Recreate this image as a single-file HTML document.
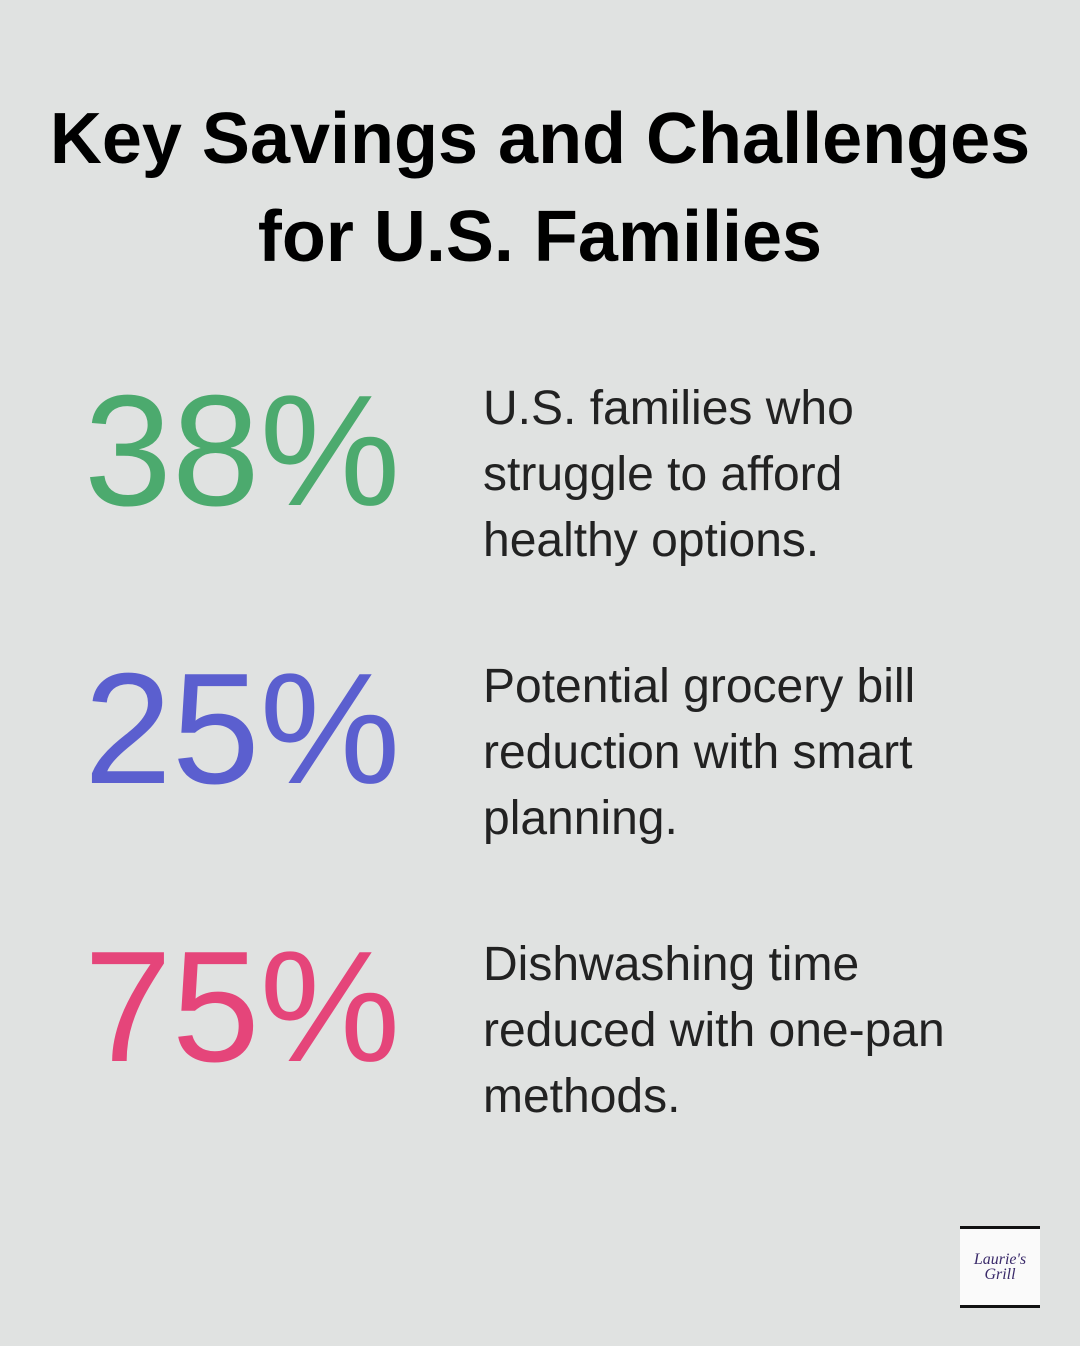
<!DOCTYPE html>
<html><head><meta charset="utf-8"><style>
body{margin:0;width:1080px;height:1346px;background:#e0e2e1;position:relative;overflow:hidden;font-family:"Liberation Sans",sans-serif;}
.t{position:absolute;left:0;width:1080px;text-align:center;font-weight:bold;font-size:72px;color:#000;line-height:98px;}
.n{position:absolute;left:84px;font-size:158px;line-height:160px;letter-spacing:0px;}
.d{position:absolute;left:483px;font-size:48px;line-height:66px;color:#222;}
</style></head><body>
<div class="t" style="top:90px">Key Savings and Challenges<br>for U.S. Families</div>
<div class="n" style="top:371px;color:#4caa6e">38%</div>
<div class="d" style="top:376px">U.S. families who<br>struggle to afford<br>healthy options.</div>
<div class="n" style="top:649px;color:#5b5fcf">25%</div>
<div class="d" style="top:654px">Potential grocery bill<br>reduction with smart<br>planning.</div>
<div class="n" style="top:927px;color:#e5457a">75%</div>
<div class="d" style="top:932px">Dishwashing time<br>reduced with one-pan<br>methods.</div>
<div style="position:absolute;left:960px;top:1226px;width:80px;height:76px;background:#fafafa;border-top:3px solid #111;border-bottom:3px solid #111;text-align:center;font-family:'Liberation Serif',serif;font-style:italic;color:#3a2a6a;font-size:16px;line-height:15px;padding-top:0;">
<div style="padding-top:23px">Laurie's<br>Grill</div></div>
</body></html>
